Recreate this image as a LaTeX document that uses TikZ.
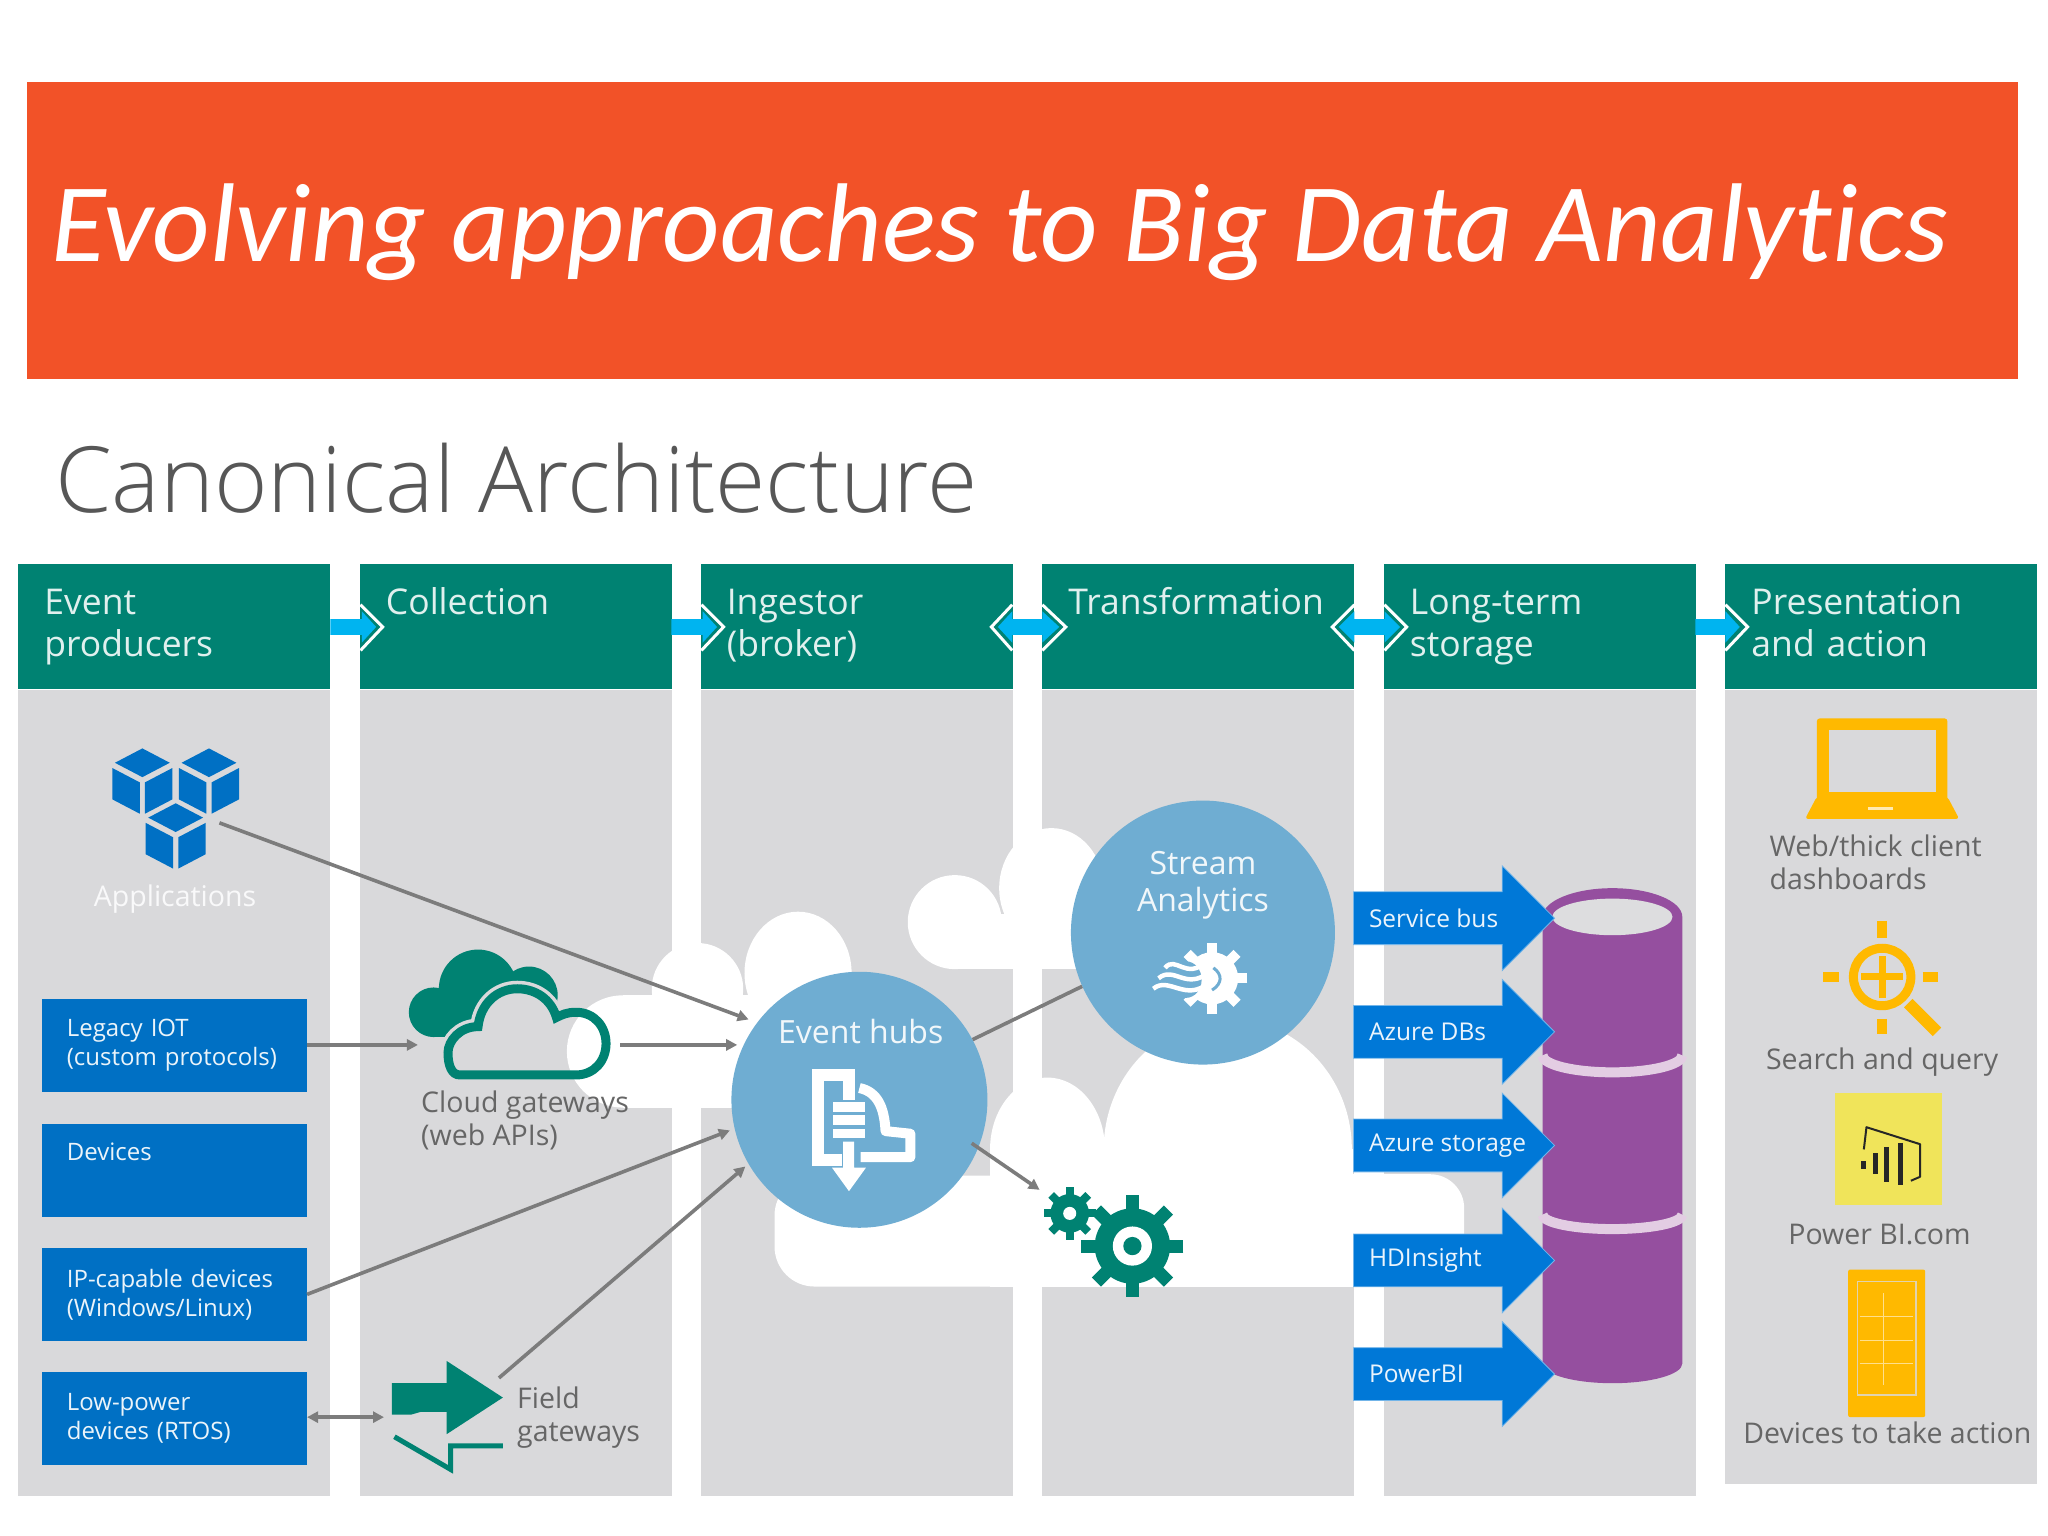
\documentclass[tikz,border=0pt]{standalone}
\usepackage{xcolor}
\usepackage{fontspec}
\usepackage{tikz}
\usetikzlibrary{shapes,arrows.meta,positioning}
\setmainfont{Open Sans}
\newfontfamily\titlefont{Carlito}[Ligatures=CommonOff]
\newfontfamily\thinfont{Open Sans}[UprightFont=* Light]

\definecolor{titlered}{HTML}{F25228}
\definecolor{panelgray}{HTML}{D9D9DB}
\definecolor{headgreen}{HTML}{008272}
\definecolor{boxblue}{HTML}{0070C4}
\definecolor{arrowblue}{HTML}{0078D7}
\definecolor{skyblue}{HTML}{00B4F0}
\definecolor{hubblue}{HTML}{6FADD2}
\definecolor{drumpurple}{HTML}{954F9F}
\definecolor{bandpink}{HTML}{E3CDE3}
\definecolor{iconyellow}{HTML}{FFB900}
\definecolor{squareyellow}{HTML}{F0E45A}
\definecolor{flowgray}{HTML}{7C7C7C}
\definecolor{labelgray}{HTML}{666666}

% x y radius toothwidth colour
\newcommand{\gearicon}[5]{%
  \fill[#5] (#1,#2) circle[radius=#3*0.74];
  \foreach \a in {0,45,90,135}
    \draw[#5, line width=#4] (#1,#2) ++(\a:#3) -- ++(\a+180:2*#3);
}

\begin{document}
\begin{tikzpicture}
  [
    x=1.30612pt, y=-1.30612pt,
    Panel/.style={rectangle, fill=panelgray, minimum width=312pt, minimum height=806pt, inner sep=0pt},
    Head/.style={rectangle, fill=headgreen, text=white!88!headgreen, minimum width=312pt, minimum height=125pt,
      inner sep=0pt, text width=260pt, align=left, font=\fontsize{35.5}{42}\selectfont},
    Device/.style={rectangle, fill=boxblue, text=white!92!boxblue, minimum width=265pt, minimum height=93pt,
      inner sep=0pt, text width=215pt, align=left, font=\fontsize{24}{29}\selectfont},
    Hub/.style={circle, fill=hubblue, inner sep=0pt},
    Name/.style={text=white!90!hubblue, align=center, font=\fontsize{32}{37}\selectfont},
    Store/.style={single arrow, fill=arrowblue, draw=arrowblue!55!white, line width=0.8pt, inner xsep=0pt, inner ysep=26pt,
      minimum height=201pt, single arrow head extend=26pt, single arrow head indent=0pt, anchor=tail},
    StoreTag/.style={anchor=west, inner sep=0pt, text=white!92!arrowblue, font=\fontsize{24.5}{29}\selectfont},
    Tag/.style={text=labelgray, inner sep=0pt, align=left, font=\fontsize{28.5}{33}\selectfont},
    Flow/.style={draw=flowgray, line width=3.6pt, >={Triangle[length=11pt,width=11pt]}},
    Link/.style={draw=white, line width=3pt, line join=miter},
    Bar/.style={fill=skyblue}
  ]
  \useasboundingbox (0,0) rectangle (1568,1176);

  % Title
  \node[rectangle, fill=titlered, minimum width=1991pt, minimum height=297pt, inner sep=0pt] (band) at (783,176.5) {};
  \node[anchor=west, text=white, inner sep=0pt, font=\titlefont\itshape\fontsize{112}{118}\selectfont] (title) at (39,178) {Evolving approaches to Big Data Analytics};
  \node[anchor=west, text=labelgray!85!black, inner sep=0pt, font=\thinfont\fontsize{91.4}{100}\selectfont] (canon) at (42,366) {Canonical Architecture};

  % Columns
  \node[Panel] (p1) at (133.5,836.5) {};
  \node[Panel] (p2) at (395,836.5) {};
  \node[Panel] (p3) at (656,836.5) {};
  \node[Panel] (p4) at (917.5,836.5) {};
  \node[Panel] (p5) at (1179,836.5) {};
  \node[Panel, minimum height=794pt] (p6) at (1440.5,832) {};

  \node[Head] (h1) at (133.5,480) {\strut Event\\\strut producers};
  \node[Head] (h2) at (395,480) {\strut Collection\\\strut};
  \node[Head] (h3) at (656,480) {\strut Ingestor\\\strut (broker)};
  \node[Head] (h4) at (917.5,480) {\strut Transformation\\\strut};
  \node[Head] (h5) at (1179,480) {\strut Long-term\\\strut storage};
  \node[Head] (h6) at (1440.5,480) {\strut Presentation\\\strut and action};

  % Arrows between the headers
  \fill[Bar] (253,474) -- (277,474) -- (277,468) -- (288,480) -- (277,492) -- (277,486) -- (253,486) -- cycle;
  \draw[Link] (276,463) -- (293,480) -- (276,498);
  \fill[Bar] (514,474) -- (538,474) -- (538,468) -- (549,480) -- (538,492) -- (538,486) -- (514,486) -- cycle;
  \draw[Link] (537,463) -- (554,480) -- (537,498);
  \fill[Bar] (764,480) -- (775,468) -- (775,474) -- (798,474) -- (798,468) -- (811,480) -- (798,492) -- (798,486) -- (775,486) -- (775,492) -- cycle;
  \draw[Link] (775,463) -- (759,480) -- (775,498);
  \draw[Link] (798,463) -- (816,480) -- (798,498);
  \fill[Bar] (1025,480) -- (1037,468) -- (1037,474) -- (1060,474) -- (1060,468) -- (1072,480) -- (1060,492) -- (1060,486) -- (1037,486) -- (1037,492) -- cycle;
  \draw[Link] (1037,463) -- (1020,480) -- (1037,498);
  \draw[Link] (1060,463) -- (1077,480) -- (1060,498);
  \fill[Bar] (1298,474) -- (1321,474) -- (1321,468) -- (1332,480) -- (1321,492) -- (1321,486) -- (1298,486) -- cycle;
  \draw[Link] (1321,463) -- (1338,480) -- (1321,498);

  % Cloud gateway icon, back part
  \fill[headgreen] (366,757) circle[radius=30];
  \fill[headgreen] (332,775) circle[radius=19];
  \fill[headgreen] (405,762) circle[radius=22];
  \fill[headgreen] (332,760) rectangle (400,794);
  \path[draw=panelgray, line width=16pt, fill=panelgray]
    (352,823) -- (441,823) .. controls (455,823) and (464,812) .. (464,799) .. controls (464,786) and (455,775) .. (441,775)
    .. controls (434,775) and (430,777) .. (426,779) .. controls (422,765) and (410,757) .. (396,757)
    .. controls (381,757) and (368,768) .. (366,786) .. controls (352,786) and (343,797) .. (343,806)
    .. controls (343,816) and (346,823) .. (352,823) -- cycle;

  % White clouds
  \fill[white] (477,805) circle[radius=43];
  \fill[white] (477,762) rectangle (690,848);
  \fill[white] (534,757) circle[radius=35];
  \fill[white] (611,745) ellipse[x radius=41, y radius=47];
  \fill[white] (731,706) circle[radius=36];
  \fill[white] (805,680) ellipse[x radius=40, y radius=46];
  \fill[white] (731,700) rectangle (860,742);
  \fill[white, rounded corners=40pt] (593,900) rectangle (1050,985);
  \fill[white] (802,880) ellipse[x radius=44, y radius=55];
  \fill[white] (940,880) ellipse[x radius=95, y radius=100];
  \fill[white, rounded corners=34pt] (1000,899) rectangle (1121,985);
  \fill[white] (758,880) rectangle (1036,985);

  % Cloud gateway icon, front part
  \path[draw=headgreen, line width=9pt]
    (352,823) -- (441,823) .. controls (455,823) and (464,812) .. (464,799) .. controls (464,786) and (455,775) .. (441,775)
    .. controls (434,775) and (430,777) .. (426,779) .. controls (422,765) and (410,757) .. (396,757)
    .. controls (381,757) and (368,768) .. (366,786) .. controls (352,786) and (343,797) .. (343,806)
    .. controls (343,816) and (346,823) .. (352,823) -- cycle;
  \node[Tag] (cloudtag) at (402,858) {Cloud gateways\\(web APIs)};

  % Applications
  \foreach \cx/\cy in {109/598, 160/598, 134.5/640} {
    \fill[boxblue] (\cx,\cy-25) -- (\cx+21,\cy-14) -- (\cx,\cy-3) -- (\cx-21,\cy-14) -- cycle;
    \fill[boxblue] (\cx-23,\cy-10) -- (\cx-2,\cy+1) -- (\cx-2,\cy+25) -- (\cx-23,\cy+14) -- cycle;
    \fill[boxblue] (\cx+23,\cy-10) -- (\cx+2,\cy+1) -- (\cx+2,\cy+25) -- (\cx+23,\cy+14) -- cycle;
  }
  \node[text=white!85!panelgray, inner sep=0pt, font=\fontsize{28.5}{33}\selectfont] (apps) at (134,688) {Applications};

  % Producers
  \node[Device] (d1) at (133.5,800.5) {Legacy IOT\\(custom protocols)};
  \node[Device] (d2) at (133.5,896) {Devices\\\strut};
  \node[Device] (d3) at (133.5,991) {IP-capable devices\\(Windows/Linux)};
  \node[Device] (d4) at (133.5,1086) {Low-power\\devices (RTOS)};

  % Field gateway icon
  \fill[headgreen] (300,1059) -- (342,1059) -- (342,1042) -- (385,1070) -- (342,1098) -- (342,1081) -- (322,1081) -- (315,1083) -- (300,1083) -- cycle;
  \draw[headgreen, line width=5pt] (302,1100) -- (345,1125) -- (345,1107) -- (385,1107);
  \node[Tag] (fieldtag) at (443,1085) {Field\\gateways};

  % Hubs
  \node[Hub, minimum size=256pt] (hub) at (658,842) {};
  \node[Hub, minimum size=264pt] (stream) at (921,714) {};
  \node[Name] (hubname) at (659,790) {Event hubs};
  \node[Name] (streamname) at (921,678) {Stream\\Analytics};

  % Event hub icon
  \draw[white, line width=12pt, line join=miter] (645,888) -- (626,888) -- (626,823) -- (650,823) -- (650,850);
  \draw[white, line width=10pt, line join=round] (658,833) .. controls (672,836) and (677,848) .. (678,866) -- (697,868) -- (697,886) -- (659,886);
  \fill[hubblue] (636,842) rectangle (664,873);
  \fill[white] (638,844) rectangle (662,851);
  \fill[white] (638,854) rectangle (662,861);
  \fill[white] (638,864) rectangle (662,871);
  \fill[white] (645.5,874) -- (654,874) -- (654,894) -- (663,894) -- (650,912) -- (637,894) -- (645.5,894) -- cycle;

  % Stream icon
  \gearicon{928}{749}{27}{10pt}{white}
  \fill[hubblue] (908,750) ellipse[x radius=12, y radius=14];
  \draw[hubblue, line width=3pt] (929,741) .. controls (936,746) and (936,753) .. (928,758);
  \draw[white, line width=4.5pt] (892,741) .. controls (900,731) and (908,751) .. (924,736);
  \draw[white, line width=4.5pt] (887,749) .. controls (899,739) and (908,759) .. (926,744);
  \draw[white, line width=4.5pt] (883,757) .. controls (895,747) and (908,768) .. (926,752);

  % Connectors
  \coordinate (c1) at (168,630);
  \coordinate (c2) at (475,800);
  \coordinate (c3) at (320,800);
  \coordinate (c4) at (382,1055);
  \coordinate (c5) at (294,1085);
  \coordinate (c6) at (796,911);
  \path [Flow, ->, shorten >=9pt] (c1) -- (hub.143);
  \path [Flow, ->] (d1.east |- c3) -- (c3);
  \path [Flow, ->, shorten >=6pt] (c2) -- (c2 -| hub.155);
  \path [Flow, ->, shorten >=5pt] (d3.east) -- (hub.193);
  \path [Flow, ->, shorten >=4pt] (c4) -- (hub.210);
  \path [Flow, <->] (d4.east |- c5) -- (c5);
  \path [Flow] (hub.28) -- (stream.204);
  \path [Flow, ->, shorten <=-8pt] (hub.338) -- (c6);

  % Gears
  \gearicon{819}{929}{20}{8pt}{headgreen}
  \fill[white] (819,929) circle[radius=5];
  \gearicon{867}{954}{39}{13pt}{headgreen}
  \fill[white] (867,954) circle[radius=15];
  \fill[headgreen] (867,954) circle[radius=7];

  % Storage drum
  \fill[drumpurple] (1181,702) -- (1181,1044) arc[start angle=180, end angle=0, x radius=53.5, y radius=15]
    -- (1288,702) arc[start angle=0, end angle=-180, x radius=53.5, y radius=22] -- cycle;
  \fill[panelgray!90!white] (1234.5,702) ellipse[x radius=46, y radius=14];
  \draw[bandpink, line width=10pt] (1181,808) arc[start angle=180, end angle=0, x radius=53.5, y radius=13];
  \draw[bandpink, line width=10pt] (1181,930) arc[start angle=180, end angle=0, x radius=53.5, y radius=11];

  % Storage arrows
  \node[Store] (s1) at (1036,703) {};
  \node[Store] (s2) at (1036,790) {};
  \node[Store] (s3) at (1036,877) {};
  \node[Store] (s4) at (1036,965) {};
  \node[Store] (s5) at (1036,1052) {};
  \node[StoreTag] (t1) at (1048,703) {Service bus};
  \node[StoreTag] (t2) at (1048,790) {Azure DBs};
  \node[StoreTag] (t3) at (1048,877) {Azure storage};
  \node[StoreTag] (t4) at (1048,965) {HDInsight};
  \node[StoreTag] (t5) at (1048,1052) {PowerBI};

  % Laptop
  \fill[iconyellow, rounded corners=3pt] (1391,550) rectangle (1491,615);
  \fill[panelgray] (1400,559) rectangle (1482,606);
  \fill[iconyellow, rounded corners=3pt] (1391,610) -- (1491,610) -- (1500,627) -- (1382,627) -- cycle;
  \draw[white!70!iconyellow, line width=3pt] (1430,619) -- (1449,619);
  \node[Tag] (webtag) at (1436,660) {Web/thick client\\dashboards};

  % Search
  \draw[iconyellow, line width=9pt] (1441,748) circle[radius=22];
  \draw[iconyellow, line width=7pt] (1425,748) -- (1457,748);
  \draw[iconyellow, line width=7pt] (1441,732) -- (1441,764);
  \draw[iconyellow, line width=12pt] (1461,768) -- (1483,790);
  \draw[iconyellow, line width=10pt] (1441,705) -- (1441,718);
  \draw[iconyellow, line width=10pt] (1441,780) -- (1441,792);
  \draw[iconyellow, line width=10pt] (1396,748) -- (1408,748);
  \draw[iconyellow, line width=10pt] (1472,748) -- (1484,748);
  \node[Tag] (searchtag) at (1441,813) {Search and query};

  % Power BI
  \node[rectangle, fill=squareyellow, minimum width=107pt, minimum height=112pt, inner sep=0pt] (bi) at (1446,880) {};
  \draw[black!85, line width=2pt, line join=round] (1427,880) -- (1429,863) -- (1470,876) -- (1470,901) -- (1463,904);
  \draw[black!85, line width=5pt] (1427,889) -- (1427,895);
  \draw[black!85, line width=5pt] (1436,883) -- (1436,899);
  \draw[black!85, line width=5pt] (1444,878) -- (1444,905);
  \draw[black!85, line width=5pt] (1455,875) -- (1455,907);
  \node[Tag] (bitag) at (1439,945) {Power BI.com};

  % Phone
  \fill[iconyellow, rounded corners=2pt] (1415,972) rectangle (1474,1085);
  \draw[panelgray!80!iconyellow, line width=1.5pt] (1422,981) rectangle (1467,1068);
  \draw[white!55!iconyellow, line width=1pt] (1442,990) -- (1442,1060);
  \draw[white!55!iconyellow, line width=1pt] (1424,1008) -- (1465,1008);
  \draw[white!55!iconyellow, line width=1pt] (1424,1026) -- (1465,1026);
  \draw[white!55!iconyellow, line width=1pt] (1424,1044) -- (1465,1044);
  \node[Tag] (phonetag) at (1445,1097) {Devices to take action};
\end{tikzpicture}
\end{document}
